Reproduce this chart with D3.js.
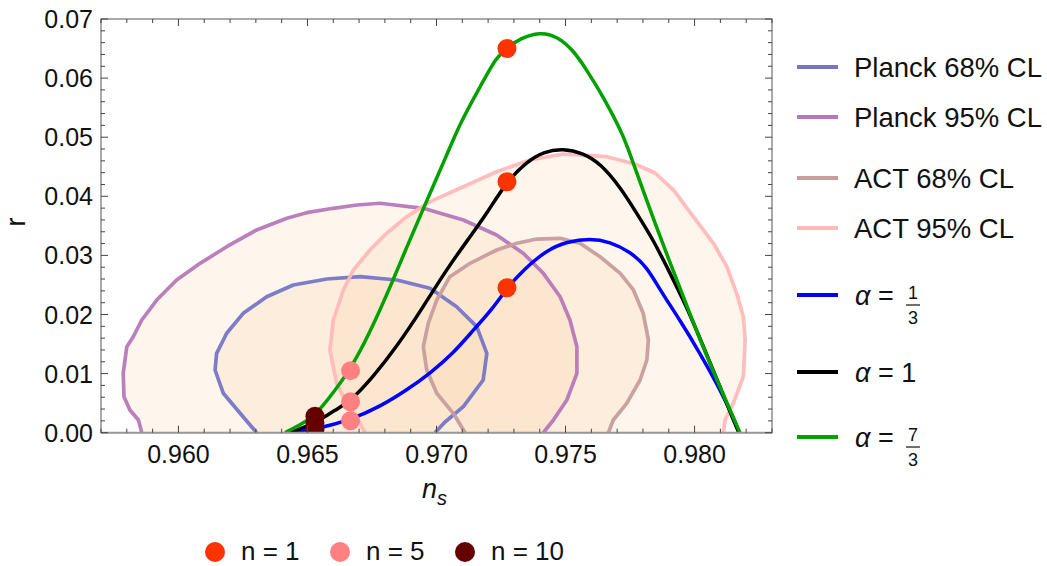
<!DOCTYPE html>
<html><head><meta charset="utf-8">
<script src="https://cdn.jsdelivr.net/npm/d3@7"></script>
<style>body{margin:0;background:#fff} text{font-family:"Liberation Sans",Arial,sans-serif;fill:#111}</style>
</head><body><svg id="c" width="1047" height="566"></svg>
<script>
// ---------- data ----------
const xTicks = [0.960, 0.965, 0.970, 0.975, 0.980];
const yTicks = [0.00, 0.01, 0.02, 0.03, 0.04, 0.05, 0.06, 0.07];
const xDomain = [0.957, 0.983];
const yDomain = [0, 0.07];

const planck68 = [[0.96303,0],[0.96239,0.00328],[0.96174,0.00667],[0.96142,0.01061],[0.96148,0.01343],[0.96187,0.01682],[0.96251,0.02020],[0.96342,0.02301],[0.96445,0.02499],[0.96575,0.02601],[0.96704,0.02640],[0.96846,0.02584],[0.96975,0.02443],[0.97078,0.02132],[0.97156,0.01794],[0.97195,0.01343],[0.97181,0.00892],[0.97104,0.00440],[0.97033,0.00181],[0.96994,0]];
const planck95 = [[0.95858,0],[0.95845,0.00215],[0.95812,0.00384],[0.95789,0.00609],[0.95786,0.01005],[0.95800,0.01455],[0.95825,0.01624],[0.95858,0.01907],[0.95916,0.02245],[0.95993,0.02584],[0.96084,0.02866],[0.96187,0.03147],[0.96303,0.03430],[0.96420,0.03628],[0.96497,0.03723],[0.96600,0.03797],[0.96691,0.03853],[0.96781,0.03882],[0.96949,0.03797],[0.97104,0.03599],[0.97233,0.03345],[0.97336,0.03036],[0.97414,0.02697],[0.97479,0.02301],[0.97517,0.01907],[0.97544,0.01455],[0.97544,0.01005],[0.97505,0.00553],[0.97453,0.00215],[0.97414,0]];
const act68 = [[0.97111,0],[0.97065,0.00328],[0.97001,0.00667],[0.96962,0.01061],[0.96949,0.01455],[0.96968,0.01851],[0.97001,0.02245],[0.97052,0.02640],[0.97130,0.02866],[0.97233,0.03091],[0.97311,0.03205],[0.97388,0.03277],[0.97479,0.03289],[0.97556,0.03205],[0.97634,0.02978],[0.97712,0.02697],[0.97763,0.02415],[0.97801,0.02020],[0.97821,0.01569],[0.97815,0.01230],[0.97789,0.00892],[0.97737,0.00497],[0.97685,0.00215],[0.97666,0]];
const act95 = [[0.96723,0],[0.96704,0.00159],[0.96658,0.00440],[0.96613,0.00836],[0.96587,0.01399],[0.96600,0.01907],[0.96639,0.02415],[0.96678,0.02753],[0.96742,0.03091],[0.96807,0.03374],[0.96885,0.03655],[0.96975,0.03909],[0.97104,0.04162],[0.97233,0.04416],[0.97362,0.04614],[0.97491,0.04716],[0.97660,0.04670],[0.97769,0.04546],[0.97847,0.04394],[0.97918,0.04107],[0.97995,0.03655],[0.98073,0.03205],[0.98125,0.02809],[0.98163,0.02359],[0.98189,0.01963],[0.98196,0.01569],[0.98189,0.00948],[0.98150,0.00497],[0.98118,0.00215],[0.98112,0]];

const alphaOneThird = [[0.96425,0],[0.96549,0.00074],[0.96665,0.00215],[0.96781,0.00440],[0.96885,0.00722],[0.96975,0.01005],[0.97065,0.01343],[0.97143,0.01738],[0.97220,0.02110],[0.97272,0.02443],[0.97336,0.02753],[0.97427,0.03091],[0.97505,0.03232],[0.97595,0.03289],[0.97672,0.03232],[0.97750,0.03063],[0.97815,0.02809],[0.97866,0.02415],[0.97943,0.01907],[0.98021,0.01343],[0.98086,0.00836],[0.98150,0.00271],[0.98172,0]];
const alphaOne = [[0.96432,0],[0.96490,0.00096],[0.96549,0.00215],[0.96607,0.00384],[0.96665,0.00525],[0.96755,0.00948],[0.96846,0.01455],[0.96949,0.02132],[0.97040,0.02770],[0.97130,0.03316],[0.97195,0.03712],[0.97272,0.04247],[0.97350,0.04585],[0.97414,0.04755],[0.97491,0.04812],[0.97569,0.04728],[0.97634,0.04558],[0.97711,0.04162],[0.97776,0.03712],[0.97840,0.03261],[0.97892,0.02809],[0.97970,0.02132],[0.98034,0.01455],[0.98099,0.00778],[0.98150,0.00215],[0.98172,0]];
const alphaSevenThirds = [[0.96413,0],[0.96471,0.0013],[0.96529,0.00283],[0.96599,0.00672],[0.96665,0.01061],[0.96742,0.01687],[0.96832,0.02584],[0.96885,0.03142],[0.96948,0.03785],[0.97040,0.04700],[0.97091,0.05235],[0.97169,0.05854],[0.97233,0.06362],[0.97272,0.06504],[0.97324,0.06673],[0.97401,0.06780],[0.97466,0.06712],[0.97530,0.06475],[0.97582,0.06137],[0.97646,0.05685],[0.97711,0.05139],[0.97731,0.04953],[0.97815,0.03917],[0.97905,0.02871],[0.97995,0.01856],[0.98086,0.00892],[0.98176,0]];

const pointsN1  = [[0.97273,0.06500],[0.97273,0.04247],[0.97273,0.02453]];
const pointsN5  = [[0.96667,0.01050],[0.96667,0.00525],[0.96667,0.00203]];
const pointsN10 = [[0.96529,0.00280],[0.96529,0.00170],[0.96529,0.00060]];

const contourNames = ["Planck 68% CL","Planck 95% CL","ACT 68% CL","ACT 95% CL"];
const curveNames = [["1","3"],["1",null],["7","3"]];
const pointNames = ["n = 1","n = 5","n = 10"];

// ---------- drawing ----------
const svg = d3.select("#c");
const L=101, R=772, T=19, B=432.7;
const x = d3.scaleLinear(xDomain,[L,R]);
const y = d3.scaleLinear(yDomain,[B,T]);

svg.append("defs").append("clipPath").attr("id","clip")
  .append("rect").attr("x",L).attr("y",T).attr("width",R-L).attr("height",B-T);
const plot = svg.append("g").attr("clip-path","url(#clip)");

const line = d3.line().x(d=>x(d[0])).y(d=>y(d[1]));
const smooth = d3.line().x(d=>x(d[0])).y(d=>y(d[1])).curve(d3.curveBasis);

const contourColors = ["#7676c6","#b679b8","#c79d9d","#ffb9b9"];
const contours = [planck95, planck68, act95, act68];
const cColor = [contourColors[1],contourColors[0],contourColors[3],contourColors[2]];
contours.forEach((c,i)=>{
  plot.append("path").attr("d",line(c)+"Z").attr("fill","#fbcf9f").attr("fill-opacity",0.2).attr("stroke","none");
});
contours.forEach((c,i)=>{
  plot.append("path").attr("d",line(c)).attr("fill","none").attr("stroke",cColor[i])
    .attr("stroke-width",3.7).attr("stroke-opacity",0.95).attr("stroke-linejoin","round");
});

const curveColors = ["#0000ff","#000000","#00a000"];
[alphaOneThird, alphaOne, alphaSevenThirds].forEach((c,i)=>{
  plot.append("path").attr("d",smooth(c)).attr("fill","none").attr("stroke",curveColors[i]).attr("stroke-width",3.5);
});

const pointColors = ["#ff3300","#ff8080","#660000"];
[pointsN1, pointsN5, pointsN10].forEach((p,i)=>{
  plot.selectAll(null).data(p).enter().append("circle")
    .attr("cx",d=>x(d[0])).attr("cy",d=>y(d[1])).attr("r",9.5).attr("fill",pointColors[i]);
});

// frame & ticks
const frame = svg.append("g");
frame.append("rect").attr("x",L).attr("y",T).attr("width",R-L).attr("height",B-T)
  .attr("fill","none").attr("stroke","#555").attr("stroke-width",1);
frame.append("line").attr("x1",L).attr("x2",R).attr("y1",B).attr("y2",B).attr("stroke","#999").attr("stroke-width",2);

const xMinor = d3.range(0.957,0.9831,0.001).map(v=>+v.toFixed(3));
const yMinor = d3.range(0,0.0701,0.002).map(v=>+v.toFixed(3));
function isMajor(v,arr){return arr.some(a=>Math.abs(a-v)<1e-9);}
xMinor.forEach(v=>{
  const len = isMajor(v,xTicks)?7:4, px=x(v);
  frame.append("line").attr("x1",px).attr("x2",px).attr("y1",B).attr("y2",B-len).attr("stroke","#444");
  frame.append("line").attr("x1",px).attr("x2",px).attr("y1",T).attr("y2",T+len).attr("stroke","#444");
});
yMinor.forEach(v=>{
  const len = isMajor(v,yTicks)?7:4, py=y(v);
  frame.append("line").attr("x1",L).attr("x2",L+len).attr("y1",py).attr("y2",py).attr("stroke","#444");
  frame.append("line").attr("x1",R).attr("x2",R-len).attr("y1",py).attr("y2",py).attr("stroke","#444");
});

xTicks.forEach(v=>{
  svg.append("text").attr("x",x(v)).attr("y",463).attr("text-anchor","middle")
    .attr("font-size",25).text(d3.format(".3f")(v));
});
yTicks.forEach(v=>{
  svg.append("text").attr("x",93).attr("y",y(v)+9).attr("text-anchor","end")
    .attr("font-size",25).text(d3.format(".2f")(v));
});

// axis labels
const xl = svg.append("text").attr("x",422).attr("y",498).attr("font-size",27).style("font-style","italic");
xl.append("tspan").text("n");
xl.append("tspan").attr("dy",7).attr("font-size",20).text("s");
svg.append("text").attr("transform","translate(25,222) rotate(-90)").attr("text-anchor","middle")
  .attr("font-size",27).text("r");

// right legend
const legY = [67,117,178,228,295,372,437];
const legColors = contourColors.concat(curveColors);
legColors.forEach((c,i)=>{
  svg.append("line").attr("x1",797).attr("x2",838).attr("y1",legY[i]).attr("y2",legY[i])
    .attr("stroke",c).attr("stroke-width",4);
});
contourNames.forEach((n,i)=>{
  svg.append("text").attr("x",854).attr("y",legY[i]+9.5).attr("font-size",27.5).text(n);
});
curveNames.forEach((f,i)=>{
  const yy = legY[i+4];
  const t = svg.append("text").attr("x",855).attr("y",yy+9.5).attr("font-size",27);
  t.append("tspan").style("font-style","italic").text("α");
  t.append("tspan").text(" = ");
  if(f[1]===null){
    t.append("tspan").text(f[0]);
  } else {
    svg.append("text").attr("x",913).attr("y",yy+4).attr("text-anchor","middle").attr("font-size",18).text(f[0]);
    svg.append("line").attr("x1",906).attr("x2",920).attr("y1",yy+10).attr("y2",yy+10).attr("stroke","#111").attr("stroke-width",1.2);
    svg.append("text").attr("x",913).attr("y",yy+29).attr("text-anchor","middle").attr("font-size",18).text(f[1]);
  }
});

// bottom legend
const bx = [215,340,465];
pointNames.forEach((n,i)=>{
  svg.append("circle").attr("cx",bx[i]).attr("cy",552).attr("r",10).attr("fill",pointColors[i]);
  svg.append("text").attr("x",bx[i]+26).attr("y",560).attr("font-size",26).text(n);
});
</script></body></html>
